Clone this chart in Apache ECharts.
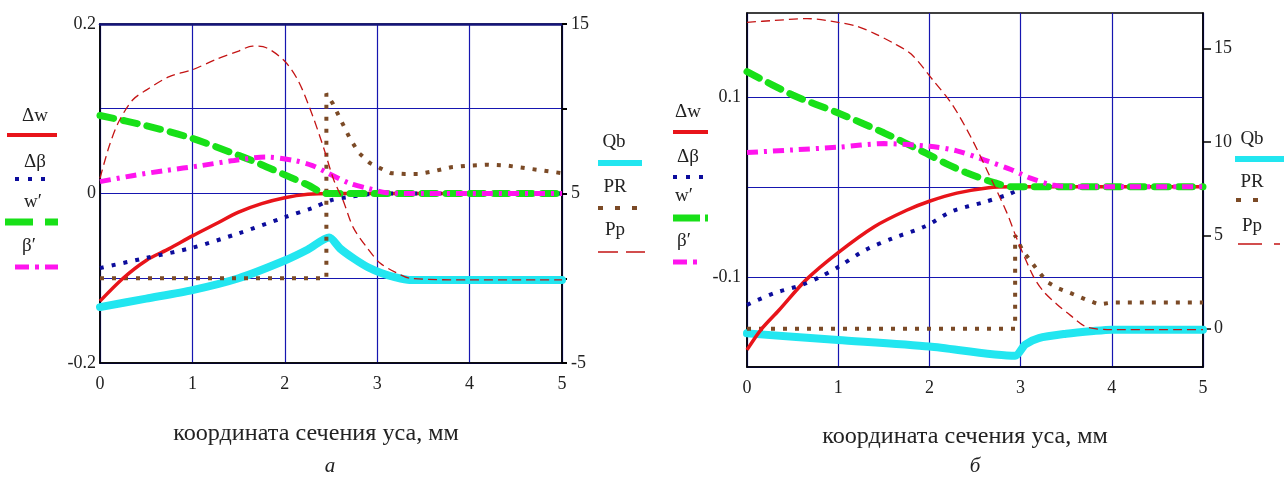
<!DOCTYPE html>
<html>
<head>
<meta charset="utf-8">
<script src="https://cdn.jsdelivr.net/npm/echarts@6/dist/echarts.min.js"></script>
<style>
html,body{margin:0;padding:0;background:#fff;}
#c{width:1284px;height:492px;}
</style>
</head>
<body>
<div id="c"></div>
<script>
// ---------- DATA: ticks ----------
const xTicks = [0, 1, 2, 3, 4, 5];
const a_leftLabels = [-0.2, 0, 0.2];
const a_rightLabels = [-5, 5, 15];
const b_leftLabels = [-0.1, 0.1];
const b_rightLabels = [0, 5, 10, 15];

// ---------- DATA: panel "а" ----------
// left axis series (Δw, Δβ, w', β')
const a_dw_x = [0, 0.25, 0.5, 0.75, 1, 1.25, 1.5, 1.75, 2, 2.25, 2.5, 3, 4, 5];
const a_dw_y = [-0.127, -0.1, -0.079, -0.065, -0.05, -0.036, -0.022, -0.012, -0.005, -0.001, 0, 0, 0, 0];
const a_db_x = [0, 0.5, 1, 1.5, 2, 2.3, 2.5, 2.7, 2.9, 3, 4, 5];
const a_db_y = [-0.088, -0.076, -0.064, -0.047, -0.028, -0.017, -0.008, -0.004, -0.001, 0, 0, 0];
const a_w1_x = [0, 0.5, 1, 1.5, 1.75, 2, 2.25, 2.45, 3, 4, 5];
const a_w1_y = [0.092, 0.08, 0.065, 0.045, 0.034, 0.022, 0.01, 0, 0, 0, 0];
const a_b1_x = [0, 0.35, 0.7, 1.1, 1.45, 1.8, 2.1, 2.3, 2.45, 2.7, 2.9, 3.1, 3.5, 4, 5];
const a_b1_y = [0.014, 0.021, 0.027, 0.033, 0.039, 0.043, 0.039, 0.033, 0.025, 0.012, 0.006, 0.001, 0, 0, 0];
// right axis series (Qb, PR, Pp)
const a_qb_x = [0, 0.5, 1, 1.5, 2, 2.25, 2.48, 2.6, 2.75, 2.9, 3.05, 3.2, 3.35, 4, 5];
const a_qb_y = [-1.7, -1.2, -0.7, 0.0, 1.05, 1.7, 2.4, 1.75, 1.15, 0.65, 0.3, 0.05, -0.1, -0.1, -0.1];
const a_pr_x = [0, 2.45, 2.45, 2.52, 2.6, 2.7, 2.8, 2.92, 3.03, 3.15, 3.3, 3.45, 3.6, 3.8, 4.0, 4.2, 4.4, 4.6, 4.8, 5.0];
const a_pr_y = [0, 0, 10.9, 10.3, 9.4, 8.3, 7.4, 6.8, 6.5, 6.2, 6.15, 6.15, 6.3, 6.55, 6.65, 6.7, 6.65, 6.5, 6.35, 6.2];
const a_pp_x = [0, 0.1, 0.2, 0.35, 0.5, 0.75, 1, 1.25, 1.5, 1.65, 1.8, 2.0, 2.15, 2.3, 2.42, 2.53, 2.63, 2.74, 2.89, 3.03, 3.2, 3.36, 4, 5];
const a_pp_y = [5.9, 7.8, 9.2, 10.5, 11.1, 11.9, 12.3, 12.9, 13.4, 13.7, 13.6, 12.8, 11.6, 9.6, 7.7, 5.8, 4.6, 3.0, 1.8, 0.9, 0.35, 0, -0.1, -0.1];

// ---------- DATA: panel "б" ----------
const b_dw_x = [0, 0.15, 0.35, 0.65, 1, 1.4, 1.75, 2, 2.3, 2.65, 2.9, 3.5, 4, 5];
const b_dw_y = [-0.181, -0.159, -0.137, -0.103, -0.073, -0.044, -0.026, -0.016, -0.007, -0.001, 0, 0, 0, 0];
const b_db_x = [0, 0.3, 0.6, 0.8, 1, 1.3, 1.6, 1.95, 2.25, 2.6, 2.85, 3.1, 4, 5];
const b_db_y = [-0.131, -0.118, -0.109, -0.1, -0.089, -0.07, -0.057, -0.044, -0.027, -0.017, -0.009, 0, 0, 0];
const b_w1_x = [0, 0.5, 1, 1.5, 1.95, 2.2, 2.4, 2.7, 2.92, 3.5, 4, 5];
const b_w1_y = [0.128, 0.102, 0.082, 0.06, 0.038, 0.025, 0.016, 0.005, 0, 0, 0, 0];
const b_b1_x = [0, 0.5, 1, 1.5, 2, 2.3, 2.6, 2.9, 3.1, 3.35, 3.6, 4, 5];
const b_b1_y = [0.038, 0.041, 0.044, 0.048, 0.045, 0.04, 0.03, 0.019, 0.01, 0.002, 0, 0, 0];
const b_qb_x = [0, 1, 2, 2.94, 3.05, 3.2, 3.5, 3.8, 4.0, 4.5, 5];
const b_qb_y = [-0.25, -0.6, -0.95, -1.45, -0.85, -0.5, -0.27, -0.12, -0.05, -0.05, -0.05];
const b_pr_x = [0, 2.94, 2.94, 3.02, 3.16, 3.29, 3.42, 3.55, 3.72, 3.86, 4.0, 4.3, 4.6, 5.0];
const b_pr_y = [0, 0, 5.0, 4.2, 3.3, 2.5, 2.15, 1.9, 1.55, 1.3, 1.4, 1.4, 1.4, 1.4];
const b_pp_x = [0, 0.3, 0.66, 1, 1.2, 1.4, 1.6, 1.8, 2.04, 2.25, 2.45, 2.63, 2.85, 2.96, 3.14, 3.25, 3.4, 3.55, 3.72, 4, 5];
const b_pp_y = [16.4, 16.5, 16.6, 16.4, 16.2, 15.8, 15.3, 14.7, 13.3, 12.0, 10.3, 8.5, 6.2, 4.8, 2.8, 2.0, 1.3, 0.7, 0.1, -0.05, -0.05];

const xTitle = 'координата сечения уса, мм';

// ---------- helpers ----------
const zip = (xs, ys) => xs.map((x, i) => [x, ys[i]]);
const FONT = 'Liberation Serif';
const GRIDC = '#1616b0';

const C = {
  dw: '#e8141a', db: '#0c0c9c', w1: '#18e018', b1: '#ff14ee',
  qb: '#22e6f0', pr: '#7b4a26', pp: '#c41414'
};

function mkSeries(prefix, xi, yl, yr, d) {
  const base = {type: 'line', showSymbol: false, symbol: 'none', xAxisIndex: xi, animation: false, silent: true};
  return [
    Object.assign({}, base, {name: prefix + 'Qb', yAxisIndex: yr, data: zip(d.qb[0], d.qb[1]), smooth: 0.25,
      lineStyle: {color: C.qb, width: 8, cap: 'round', join: 'round'}}),
    Object.assign({}, base, {name: prefix + 'PR', yAxisIndex: yr, data: zip(d.pr[0], d.pr[1]),
      lineStyle: {color: C.pr, width: 4, type: [4, 8], cap: 'butt'}}),
    Object.assign({}, base, {name: prefix + 'dw', yAxisIndex: yl, data: zip(d.dw[0], d.dw[1]), smooth: 0.3,
      lineStyle: {color: C.dw, width: 3.5}}),
    Object.assign({}, base, {name: prefix + 'db', yAxisIndex: yl, data: zip(d.db[0], d.db[1]), smooth: 0.3,
      lineStyle: {color: C.db, width: 4, type: [4, 8], cap: 'butt'}}),
    Object.assign({}, base, {name: prefix + 'w1', yAxisIndex: yl, data: zip(d.w1[0], d.w1[1]), smooth: 0.3,
      lineStyle: {color: C.w1, width: 7, type: [14, 10], cap: 'round'}}),
    Object.assign({}, base, {name: prefix + 'b1', yAxisIndex: yl, data: zip(d.b1[0], d.b1[1]), smooth: 0.3,
      lineStyle: {color: C.b1, width: 5, type: [11, 6, 3, 6], cap: 'butt'}}),
    Object.assign({}, base, {name: prefix + 'Pp', yAxisIndex: yr, data: zip(d.pp[0], d.pp[1]), smooth: 0.3,
      lineStyle: {color: C.pp, width: 1.3, type: [9, 5]}})
  ];
}

const lbl = {fontFamily: FONT, fontSize: 18, color: '#222'};

function xAx(gi, margin) {
  return {type: 'value', gridIndex: gi, min: 0, max: 5, interval: 1, position: 'bottom',
    axisLine: {onZero: false, lineStyle: {color: '#000', width: 1.5}},
    axisTick: {show: false},
    axisLabel: Object.assign({margin: margin, customValues: xTicks}, lbl),
    splitLine: {show: true, lineStyle: {color: GRIDC, width: 1.2}}};
}

const chart = echarts.init(document.getElementById('c'), null, {renderer: 'canvas'});

const legendItem = (x1, x2, y, style) => ({type: 'line', shape: {x1: x1, y1: y, x2: x2, y2: y}, style: style, silent: true});
const txt = (x, y, t, size, extra, sx) => ({type: 'text', x: x, y: y, scaleX: sx || 1, silent: true,
  style: Object.assign({text: t, font: (size || 19) + 'px "' + FONT + '"', fill: '#222', align: 'center', verticalAlign: 'middle'}, extra || {})});

const stDw = {stroke: C.dw, lineWidth: 4};
const stDb = {stroke: C.db, lineWidth: 4, lineDash: [4, 9]};
const stW1 = {stroke: C.w1, lineWidth: 7, lineDash: [28, 12]};
const stB1 = {stroke: C.b1, lineWidth: 5, lineDash: [14, 6, 4, 6]};
const stQb = {stroke: C.qb, lineWidth: 6};
const stPr = {stroke: C.pr, lineWidth: 4, lineDash: [5, 12]};
const stPp = {stroke: C.pp, lineWidth: 1.5, lineDash: [20, 8]};

const option = {
  backgroundColor: '#fff',
  animation: false,
  grid: [
    {left: 100, top: 24, width: 462, height: 339, show: true, borderColor: '#000', borderWidth: 1.5, backgroundColor: 'transparent'},
    {left: 747, top: 13, width: 456, height: 354, show: true, borderColor: '#000', borderWidth: 1.5, backgroundColor: 'transparent'}
  ],
  xAxis: [
    xAx(0, 12),
    xAx(1, 12),
    {type: 'value', gridIndex: 0, min: 0, max: 5, position: 'top',
      axisLine: {onZero: false, lineStyle: {color: '#14147a', width: 2.5}},
      axisTick: {show: false}, axisLabel: {show: false}, splitLine: {show: false}}
  ],
  yAxis: [
    {type: 'value', gridIndex: 0, min: -0.2, max: 0.2, interval: 0.1, position: 'left',
      axisLine: {onZero: false, show: true, lineStyle: {color: '#000', width: 1.5}},
      axisTick: {show: false},
      axisLabel: Object.assign({margin: 4, customValues: a_leftLabels}, lbl),
      splitLine: {show: true, lineStyle: {color: GRIDC, width: 1.2}}},
    {type: 'value', gridIndex: 0, min: -5, max: 15, interval: 5, position: 'right',
      axisLine: {onZero: false, show: true, lineStyle: {color: '#000', width: 1.5}},
      axisTick: {show: true, length: 5, customValues: [-5, 0, 5, 10, 15], lineStyle: {color: '#000', width: 2}},
      axisLabel: Object.assign({margin: 9, customValues: a_rightLabels}, lbl),
      splitLine: {show: false}},
    {type: 'value', gridIndex: 1, min: -0.2, max: 0.193, interval: 0.1, position: 'left',
      axisLine: {onZero: false, show: true, lineStyle: {color: '#000', width: 1.5}},
      axisTick: {show: false},
      axisLabel: Object.assign({margin: 6, customValues: b_leftLabels}, lbl),
      splitLine: {show: true, showMaxLine: false, lineStyle: {color: GRIDC, width: 1.2}}},
    {type: 'value', gridIndex: 1, min: -2.05, max: 16.9, position: 'right',
      axisLine: {onZero: false, show: true, lineStyle: {color: '#000', width: 1.5}},
      axisTick: {show: true, length: 8, customValues: b_rightLabels, lineStyle: {color: '#000', width: 1.5}},
      axisLabel: Object.assign({margin: 11, customValues: b_rightLabels}, lbl),
      splitLine: {show: false}}
  ],
  series: [].concat(
    mkSeries('a', 0, 0, 1, {dw: [a_dw_x, a_dw_y], db: [a_db_x, a_db_y], w1: [a_w1_x, a_w1_y], b1: [a_b1_x, a_b1_y],
      qb: [a_qb_x, a_qb_y], pr: [a_pr_x, a_pr_y], pp: [a_pp_x, a_pp_y]}),
    mkSeries('b', 1, 2, 3, {dw: [b_dw_x, b_dw_y], db: [b_db_x, b_db_y], w1: [b_w1_x, b_w1_y], b1: [b_b1_x, b_b1_y],
      qb: [b_qb_x, b_qb_y], pr: [b_pr_x, b_pr_y], pp: [b_pp_x, b_pp_y]})
  ),
  graphic: [
    // panel а left legend
    txt(35, 116, 'Δw'), legendItem(7, 57, 135, stDw),
    txt(35, 162, 'Δβ'), legendItem(15, 52, 179, stDb),
    txt(33, 202, 'w′'), legendItem(5, 58, 222, stW1),
    txt(29, 246, 'β′'), legendItem(15, 58, 267, stB1),
    // panel а right legend
    txt(614, 142, 'Qb'), legendItem(598, 642, 163, stQb),
    txt(615, 187, 'PR'), legendItem(598, 640, 208, stPr),
    txt(615, 230, 'Pp'), legendItem(598, 645, 252, stPp),
    // panel б left legend
    txt(688, 112, 'Δw'), legendItem(673, 708, 132, stDw),
    txt(688, 157, 'Δβ'), legendItem(673, 704, 177, stDb),
    txt(684, 196, 'w′'), legendItem(673, 708, 218, Object.assign({}, stW1, {lineDash: [27, 5]})),
    txt(684, 241, 'β′'), legendItem(673, 700, 262, stB1),
    // panel б right legend
    txt(1252, 139, 'Qb'), legendItem(1235, 1284, 159, stQb),
    txt(1252, 182, 'PR'), legendItem(1236, 1270, 200, stPr),
    txt(1252, 226, 'Pp'), legendItem(1238, 1280, 244, Object.assign({}, stPp, {lineDash: [24, 12]})),
    // axis titles and panel captions
    txt(316, 434, xTitle, 23, null, 1.05),
    txt(965, 437, xTitle, 23, null, 1.05),
    txt(330, 466, 'а', 21, {font: 'italic 21px "' + FONT + '"'}),
    txt(975, 466, 'б', 21, {font: 'italic 21px "' + FONT + '"'})
  ]
};
chart.setOption(option);
</script>
</body>
</html>
